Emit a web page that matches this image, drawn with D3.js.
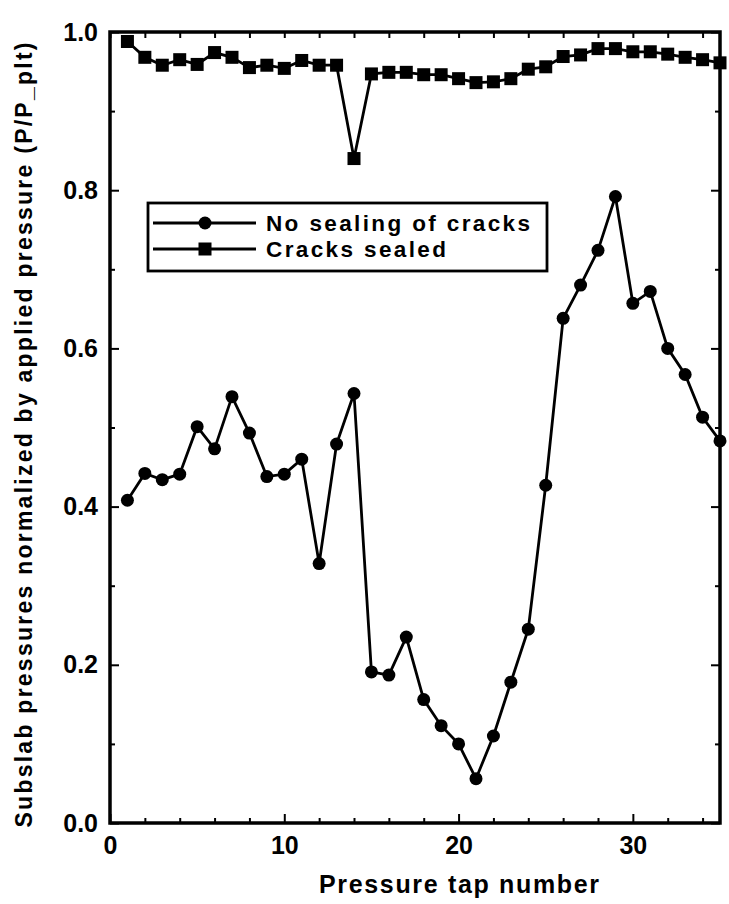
<!DOCTYPE html>
<html>
<head>
<meta charset="utf-8">
<script src="https://cdn.jsdelivr.net/npm/d3@7"></script>
<style>
  body { margin: 0; background: #fff; }
  svg text { font-family: "Liberation Sans", Arial, sans-serif; font-weight: bold; fill: #000; }
</style>
</head>
<body>
<div id="chart"></div>
<script>
// pressure tap numbers
var taps = [1,2,3,4,5,6,7,8,9,10,11,12,13,14,15,16,17,18,19,20,21,22,23,24,25,26,27,28,29,30,31,32,33,34,35];

// no sealing of cracks (circles)
var noSeal = [0.408,0.442,0.434,0.441,0.501,0.473,0.539,0.493,0.438,0.441,0.460,0.328,0.479,0.543,
  0.191,0.187,0.235,0.156,0.123,0.100,0.056,0.110,0.178,0.245,0.427,0.638,0.680,0.724,0.792,
  0.657,0.672,0.600,0.567,0.513,0.483];

// cracks sealed (squares)
var sealed = [0.988,0.968,0.958,0.965,0.959,0.974,0.968,0.955,0.958,0.954,0.964,0.958,0.958,0.840,
  0.947,0.949,0.949,0.946,0.946,0.941,0.936,0.937,0.941,0.953,0.956,0.969,0.971,0.979,0.979,
  0.975,0.975,0.972,0.968,0.965,0.961];

var xTicks = [0,10,20,30];
var xMinor = [2,4,6,8,12,14,16,18,22,24,26,28,32,34];
var yTicks = [0.0,0.2,0.4,0.6,0.8,1.0];
var yMinor = [0.1,0.3,0.5,0.7,0.9];
var legendLabels = ["No sealing of cracks", "Cracks sealed"];

var W = 729, H = 904;
var margin = {top: 32, right: 9, bottom: 81, left: 110};
var width = W - margin.left - margin.right;
var height = H - margin.top - margin.bottom;

var svg = d3.select("#chart")
  .append("svg")
    .attr("width", W)
    .attr("height", H)
  .append("g")
    .attr("transform", "translate(" + margin.left + "," + margin.top + ")");

var x = d3.scaleLinear().domain([0, 35]).range([0, width]);
var y = d3.scaleLinear().domain([0, 1]).range([height, 0]);

function styleAxis(g) {
  g.select(".domain").remove();
  g.selectAll("line").attr("stroke", "#000").attr("stroke-width", 2);
  g.selectAll("text").style("font-size", "25px");
}

// bottom
svg.append("g")
  .attr("transform", "translate(0," + height + ")")
  .call(d3.axisBottom(x).tickValues(xTicks).tickSize(-9).tickPadding(13).tickFormat(d3.format("d")))
  .call(styleAxis);
svg.append("g")
  .attr("transform", "translate(0," + height + ")")
  .call(d3.axisBottom(x).tickValues(xMinor).tickSize(-5).tickFormat(""))
  .call(styleAxis);
// top
svg.append("g")
  .call(d3.axisTop(x).tickValues(xTicks.concat(xMinor)).tickSize(-6).tickFormat(""))
  .call(styleAxis);
// left
svg.append("g")
  .call(d3.axisLeft(y).tickValues(yTicks).tickSize(-9).tickPadding(12).tickFormat(d3.format(".1f")))
  .call(styleAxis);
svg.append("g")
  .call(d3.axisLeft(y).tickValues(yMinor).tickSize(-5).tickFormat(""))
  .call(styleAxis);
// right
svg.append("g")
  .attr("transform", "translate(" + width + ",0)")
  .call(d3.axisRight(y).tickValues(yTicks).tickSize(-9).tickFormat(""))
  .call(styleAxis);
svg.append("g")
  .attr("transform", "translate(" + width + ",0)")
  .call(d3.axisRight(y).tickValues(yMinor).tickSize(-5).tickFormat(""))
  .call(styleAxis);

// frame
svg.append("rect")
  .attr("x", 0).attr("y", 0)
  .attr("width", width).attr("height", height)
  .attr("fill", "none")
  .attr("stroke", "#000")
  .attr("stroke-width", 3.5);

var line = d3.line()
  .x(function(d){ return x(d[0]); })
  .y(function(d){ return y(d[1]); });

var noSealPts = taps.map(function(t, i){ return [t, noSeal[i]]; });
var sealedPts = taps.map(function(t, i){ return [t, sealed[i]]; });

svg.append("path")
  .datum(noSealPts)
  .attr("d", line)
  .attr("fill", "none")
  .attr("stroke", "#000")
  .attr("stroke-width", 2.8);

svg.append("path")
  .datum(sealedPts)
  .attr("d", line)
  .attr("fill", "none")
  .attr("stroke", "#000")
  .attr("stroke-width", 2.8);

svg.selectAll("circle.ns")
  .data(noSealPts)
  .enter()
  .append("circle")
  .attr("class", "ns")
  .attr("cx", function(d){ return x(d[0]); })
  .attr("cy", function(d){ return y(d[1]); })
  .attr("r", 6.5)
  .attr("fill", "#000");

svg.selectAll("rect.sq")
  .data(sealedPts)
  .enter()
  .append("rect")
  .attr("class", "sq")
  .attr("x", function(d){ return x(d[0]) - 6.5; })
  .attr("y", function(d){ return y(d[1]) - 6.5; })
  .attr("width", 13)
  .attr("height", 13)
  .attr("fill", "#000");

// legend
var lg = svg.append("g").attr("transform", "translate(" + (148 - margin.left) + "," + (203 - margin.top) + ")");
lg.append("rect")
  .attr("width", 399).attr("height", 68)
  .attr("fill", "#fff")
  .attr("stroke", "#000")
  .attr("stroke-width", 2.8);
var legendLen = [264, 180];
legendLabels.forEach(function(lab, i){
  var cy = 20 + i * 26;
  lg.append("line")
    .attr("x1", 5).attr("x2", 108)
    .attr("y1", cy).attr("y2", cy)
    .attr("stroke", "#000").attr("stroke-width", 2.8);
  if (i === 0) {
    lg.append("circle").attr("cx", 57).attr("cy", cy).attr("r", 6.5).attr("fill", "#000");
  } else {
    lg.append("rect").attr("x", 50.5).attr("y", cy - 6.5).attr("width", 13).attr("height", 13).attr("fill", "#000");
  }
  lg.append("text")
    .attr("x", 118).attr("y", cy + 8)
    .attr("textLength", legendLen[i])
    .style("font-size", "22.5px")
    .text(lab);
});

// axis titles
svg.append("text")
  .attr("x", 459 - margin.left)
  .attr("y", 893 - margin.top)
  .attr("text-anchor", "middle")
  .attr("textLength", 280)
  .style("font-size", "25px")
  .text("Pressure tap number");

svg.append("text")
  .attr("transform", "translate(" + (32 - margin.left) + "," + (435 - margin.top) + ") rotate(-90)")
  .attr("text-anchor", "middle")
  .attr("textLength", 785)
  .style("font-size", "23px")
  .text("Subslab pressures normalized by applied pressure (P/P_plt)");
</script>
</body>
</html>
